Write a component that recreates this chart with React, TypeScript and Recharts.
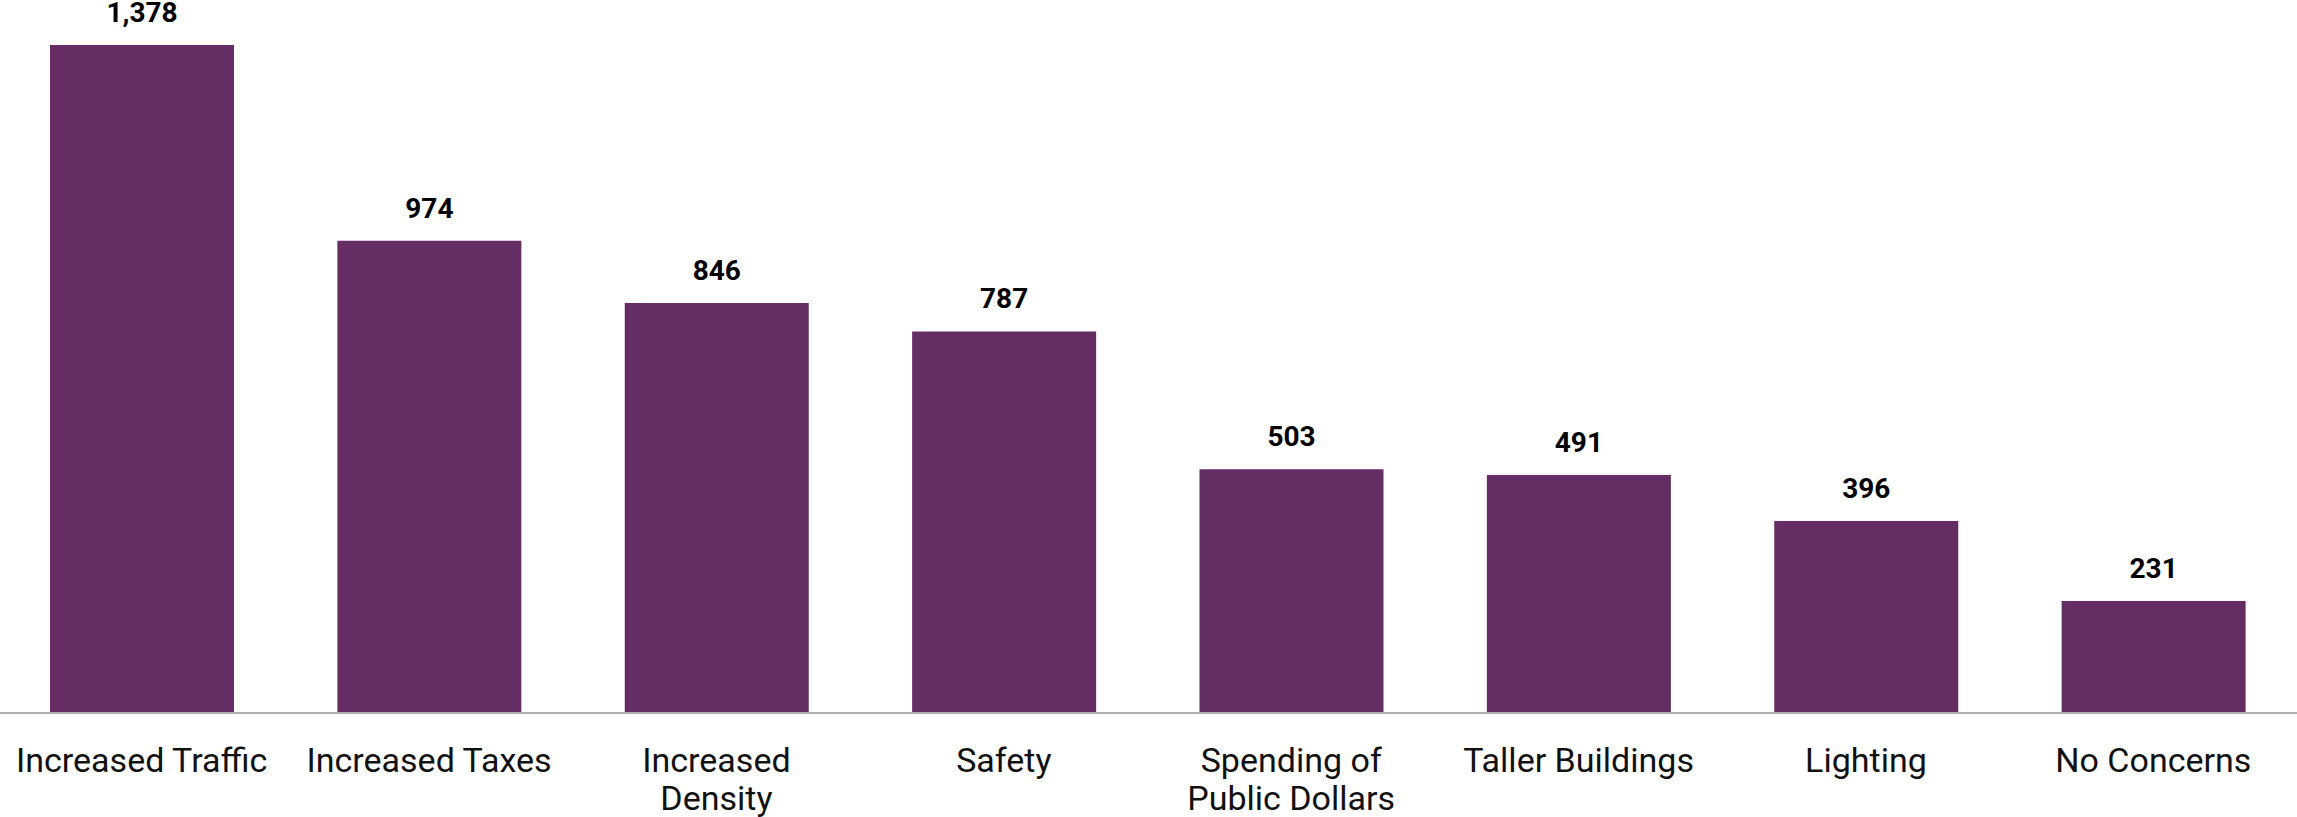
import { BarChart, Bar, XAxis, YAxis, LabelList } from 'recharts';

const categories = [
    "Increased Traffic",
    "Increased Taxes",
    "Increased\nDensity",
    "Safety",
    "Spending of\nPublic Dollars",
    "Taller Buildings",
    "Lighting",
    "No Concerns",
];

const responses = [1378, 974, 846, 787, 503, 491, 396, 231];

const data = categories.map((name, i) => ({ name, count: responses[i] }));

// eslint-disable-next-line @typescript-eslint/no-explicit-any
function CategoryTick({ x, y, payload }: any) {
    const lines = String(payload.value).split("\n");
    return (
        <text x={x} y={y + 59} textAnchor="middle" fill="#111" fontSize={34} fontFamily="Roboto">
            {lines.map((line, i) => (
                <tspan key={i} x={x} dy={i === 0 ? 0 : 38}>{line}</tspan>
            ))}
        </text>
    );
}

export default function App() {
    return (
        <div style={{ position: "absolute", left: 0, top: 0, width: 2297, height: 817, background: "#fff" }}>
            <BarChart
                width={2297}
                height={817}
                data={data}
                margin={{ top: 45, right: 0, bottom: 0, left: -2 }}
                barCategoryGap={0}
            >
                <XAxis
                    dataKey="name"
                    interval={0}
                    height={104}
                    tickLine={false}
                    tickSize={0}
                    tickMargin={0}
                    axisLine={{ stroke: "#b3b3b3", strokeWidth: 2 }}
                    tick={<CategoryTick />}
                />
                <YAxis hide domain={[0, 1378]} />
                <Bar dataKey="count" fill="#642D63" barSize={184} isAnimationActive={false}>
                    <LabelList
                        dataKey="count"
                        position="top"
                        offset={23}
                        formatter={(v: any) => Number(v).toLocaleString("en-US")}
                        style={{ fontFamily: "Roboto", fontWeight: 700, fontSize: 28, fill: "#000" }}
                    />
                </Bar>
            </BarChart>
        </div>
    );
}
